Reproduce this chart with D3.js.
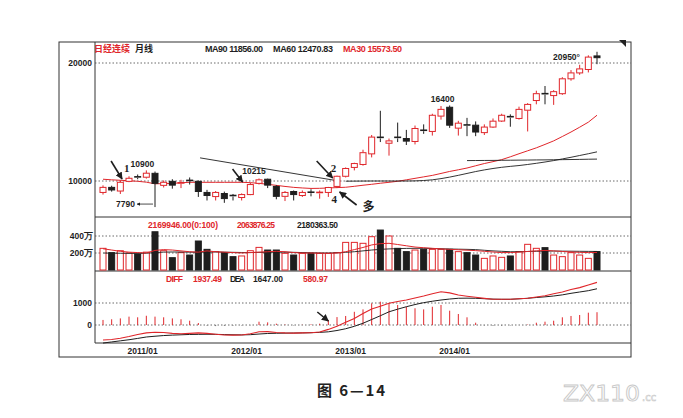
<!DOCTYPE html>
<html><head><meta charset="utf-8">
<script src="https://cdn.jsdelivr.net/npm/d3@7"></script>
<style>body{margin:0;background:#fff}svg{display:block}</style>
</head><body><svg id="c" width="683" height="418"></svg>
<script>
// ---------- data (monthly, Nikkei continuous futures) ----------
const months = ["2010/09","2010/10","2010/11","2010/12",
 "2011/01","2011/02","2011/03","2011/04","2011/05","2011/06","2011/07","2011/08","2011/09","2011/10","2011/11","2011/12",
 "2012/01","2012/02","2012/03","2012/04","2012/05","2012/06","2012/07","2012/08","2012/09","2012/10","2012/11","2012/12",
 "2013/01","2013/02","2013/03","2013/04","2013/05","2013/06","2013/07","2013/08","2013/09","2013/10","2013/11","2013/12",
 "2014/01","2014/02","2014/03","2014/04","2014/05","2014/06","2014/07","2014/08","2014/09","2014/10","2014/11","2014/12",
 "2015/01","2015/02","2015/03","2015/04","2015/05","2015/06"];
const open  = [9030,9460,9150,9970,10350,10320,10650,9630,9970,9780,10050,9970,9030,8680,8940,8770,8600,8850,9800,10150,9540,8700,9110,8770,9050,8950,9030,9540,10400,11150,11400,12300,13700,13200,13700,13600,13350,14300,14200,15500,16250,14480,14750,14730,14100,14570,15080,15450,15300,16000,16820,17400,17240,17400,18660,19160,19450,20600];
const high  = [9630,9600,10050,10400,10550,10900,10800,10050,10150,10100,10300,10050,9250,9150,9100,8900,8950,9850,10215,10200,9650,9150,9200,9200,9300,9200,9500,10450,11150,11550,12650,13900,15950,13600,14950,14330,14700,14800,15700,16350,16400,15100,15350,15050,14800,15300,15700,15650,16300,16600,17650,18050,17700,18800,19400,19850,20650,20950];
const low   = [8850,9100,8900,9900,10150,10200,7790,9450,9350,9400,9700,8650,8350,8350,8150,8350,8350,8800,9700,9400,8450,8300,8350,8650,8700,8500,8650,9400,10300,10900,11300,12000,13300,12150,13300,13050,13100,14000,13850,15200,14500,13850,13800,13800,13900,14500,15000,14600,15200,14200,16500,16500,16450,17300,18500,19000,19200,19900];
const close = [9460,9240,9890,10230,10330,10660,9800,9890,9650,9840,10000,9110,8770,9030,8510,8680,8850,9700,10100,9650,8700,9030,8850,9030,9020,9030,9450,10400,11060,11480,12400,13720,13650,13400,13620,13380,14450,14250,15570,16070,14730,14900,14700,14150,14570,15070,15570,15400,16070,16490,17400,17330,17570,18660,19160,19500,20500,20450];
const ma30 = [10150,10100,10060,10020,9975,9900,9760,9780,9800,9850,9890,9890,9890,9890,9890,9890,9890,9860,9800,9720,9630,9540,9460,9410,9370,9380,9410,9440,9470,9550,9640,9720,9810,9890,9975,10100,10225,10350,10475,10640,10810,10950,11100,11290,11480,11640,11810,12050,12310,12560,12810,13100,13400,13770,14150,14560,14985,15573.5];
const ma60 = [null,null,null,null,null,null,null,null,null,null,null,null,null,null,null,null,null,null,null,null,null,null,null,null,null,null,null,null,9985,9990,9995,10000,10000,10000,10000,10000,10010,10040,10100,10200,10330,10480,10640,10800,10940,11060,11160,11240,11310,11400,11500,11610,11730,11870,12010,12160,12310,12470.83];
const ma90 = [null,null,null,null,null,null,null,null,null,null,null,null,null,null,null,null,null,null,null,null,null,null,null,null,null,null,null,null,null,null,null,null,null,null,null,null,null,null,null,null,null,null,11730,11735,11740,11745,11755,11760,11770,11775,11785,11790,11800,11810,11820,11830,11845,11856];
// volume in 万 (10k contracts)
const volume = [255,204,227,200,188,210,450,227,145,204,176,341,243,216,204,157,165,227,266,235,235,196,176,196,196,196,196,204,325,325,314,392,470,400,255,216,235,243,243,243,243,216,204,176,137,165,149,165,216,302,255,263,176,157,204,176,137,216.99];
const volMaA = [250,235,220,210,205,200,230,240,235,225,215,210,225,215,210,205,200,205,210,215,220,215,205,200,200,198,196,200,215,240,265,295,310,314,300,285,270,262,255,248,243,238,233,228,220,212,205,205,210,218,225,230,225,218,212,208,205,206.39];
const volMaB = [200,198,197,196,196,197,205,210,212,212,210,208,212,212,210,208,206,205,207,208,210,210,208,205,203,200,200,202,208,215,225,235,243,248,252,254,255,255,253,250,247,245,243,240,232,225,220,215,215,218,220,222,223,222,221,220,219,218.04];
const diff = [-680,-660,-600,-520,-430,-360,-330,-340,-380,-400,-380,-360,-380,-420,-455,-460,-455,-400,-310,-300,-340,-360,-370,-360,-350,-320,-200,-60,120,300,520,730,850,985,1070,1136,1230,1318,1420,1514,1460,1364,1310,1260,1210,1168,1168,1168,1190,1214,1270,1330,1420,1500,1610,1700,1818,1937.49];
const dea  = [-820,-770,-720,-670,-610,-545,-510,-480,-460,-445,-430,-425,-420,-425,-435,-445,-450,-440,-410,-385,-375,-370,-365,-360,-350,-335,-310,-250,-170,-60,80,250,420,600,720,830,930,1015,1080,1136,1180,1215,1220,1215,1195,1175,1168,1168,1190,1215,1250,1280,1318,1370,1440,1500,1560,1647];
const macdHist = [230,260,300,380,350,420,380,350,300,260,195,90,-30,-50,-40,-30,-20,-10,150,120,60,20,-20,10,30,60,230,360,410,600,710,985,1060,985,910,830,760,710,830,910,650,500,350,105,-20,-40,-30,-20,0,20,105,150,195,350,410,455,560,580.97];
const priceTicks = [10000, 20000];
const volTicks = [200, 400];
const macdTicks = [0, 1000];
const xTickLabels = ["2011/01","2012/01","2013/01","2014/01"];
// annotations anchored in data space
const peakLabels = [{i:5,v:10900,t:"10900",dx:-4,dy:-3,a:"middle"},{i:18,v:10215,t:"10215",dx:-5,dy:-4,a:"middle"},{i:40,v:16400,t:"16400",dx:-7,dy:-3,a:"middle"},{i:57,v:20950,t:"20950°",dx:-17,dy:8,a:"end"}];
const trendLine = [[11.2,11960],[26.8,10050]];
const arrows = [{i:2.2,v:10170,dx:-11,dy:-18},{i:16.1,v:9915,dx:-10,dy:-13},{i:26.5,v:10254,dx:-16,dy:-17},{i:27.3,v:9068,dx:17,dy:13}];
const numLabels = [{i:2.2,v:10170,t:"1",dx:2,dy:-7},{i:26.5,v:10254,t:"2",dx:-2,dy:-6},{i:26.6,v:9068,t:"4",dx:-2,dy:11},{i:27.3,v:9068,t:"多",dx:23,dy:19}];
const macdArrow = {i:26,v:182,dx:-11,dy:-9};

// ---------- drawing ----------
const RED = "#e0262b", BLK = "#1e1e1e";
const svg = d3.select("#c");
const L = 95, R = 631, FL = 59, FT = 42, FB = 357;
const x  = d3.scaleLinear().domain([0, 57]).range([103, 597]);
const yP = d3.scaleLinear().domain([10000, 20000]).range([181, 63]);
const yV = d3.scaleLinear().domain([0, 400]).range([270, 236]);
const yM = d3.scaleLinear().domain([0, 1000]).range([325, 303]);

svg.append("rect").attr("width",683).attr("height",418).attr("fill","#fff");
const defs = svg.append("defs");
defs.append("marker").attr("id","ah").attr("viewBox","0 0 10 10").attr("refX",9).attr("refY",5)
  .attr("markerWidth",4.5).attr("markerHeight",4.5).attr("orient","auto")
  .append("path").attr("d","M0,0L10,5L0,10z").attr("fill",BLK);

// frame
svg.append("rect").attr("x",FL).attr("y",FT).attr("width",R-FL).attr("height",FB-FT)
  .attr("fill","none").attr("stroke","#333").attr("stroke-width",1);
svg.append("path").attr("d",`M${R-12},${FT-2}L${R-5},${FT-2}L${R-5},${FT+5}Z`).attr("fill","#222");
svg.append("line").attr("x1",L).attr("x2",L).attr("y1",FT).attr("y2",343).attr("stroke","#333");
[217,271,343].forEach(y=>svg.append("line").attr("x1",L).attr("x2",R).attr("y1",y).attr("y2",y).attr("stroke","#333"));

// grids
const grid = (y)=>svg.append("line").attr("x1",L).attr("x2",R).attr("y1",y).attr("y2",y)
  .attr("stroke","#444").attr("stroke-width",0.8).attr("stroke-dasharray","1.5,2");
priceTicks.forEach(v=>grid(yP(v)));
volTicks.forEach(v=>grid(yV(v)));
macdTicks.forEach(v=>grid(yM(v)));

const lab = {"font-family":"'Liberation Sans Narrow','Liberation Sans',Arial,sans-serif","font-weight":"bold","font-size":"8.5px"};
function txt(xp,yp,t,fill,anchor,extra){
  const e = svg.append("text").attr("x",xp).attr("y",yp).text(t).attr("fill",fill||BLK).attr("text-anchor",anchor||"start");
  Object.entries(Object.assign({},lab,extra||{})).forEach(([k,v])=>e.attr(k,v));
  return e;
}
// y labels via scales
priceTicks.forEach(v=>txt(92,yP(v)+3,d3.format("d")(v),BLK,"end"));
volTicks.forEach(v=>txt(93,yV(v)+3,v+"万",BLK,"end"));
macdTicks.forEach(v=>txt(92,yM(v)+3,String(v),BLK,"end"));
// x labels
xTickLabels.forEach(m=>{const i = months.indexOf(m); txt(x(i)+5,354,m,BLK,"middle");});

// headers
txt(94,52,"日经连续",RED,"start",{"font-family":"'Noto Sans CJK SC',sans-serif","font-size":"9px","textLength":36});
txt(135,52,"月线",BLK,"start",{"font-family":"'Noto Sans CJK SC',sans-serif","font-size":"9px"});
txt(205,52,"MA90 11856.00",BLK,"start",{"textLength":58,"font-size":"9px"});
txt(273,52,"MA60 12470.83",BLK,"start",{"textLength":60,"font-size":"9px"});
txt(343,52,"MA30 15573.50",RED,"start",{"textLength":59,"font-size":"9px"});
txt(148,228,"2169946.00(0:100)",RED,"start",{"textLength":70});
txt(237,228,"2063876.25",RED,"start",{"textLength":38});
txt(297,228,"2180363.50",BLK,"start",{"textLength":41});
txt(166,282,"DIFF",RED,"start",{"textLength":17});
txt(193,282,"1937.49",RED,"start",{"textLength":29});
txt(230,282,"DEA",BLK,"start",{"textLength":15});
txt(253,282,"1647.00",BLK,"start",{"textLength":30});
txt(303,282,"580.97",RED,"start",{"textLength":25});

// moving averages (price)
const lineP = d3.line().defined(d=>d!=null).x((d,i)=>x(i)).y(d=>yP(d));
svg.append("path").attr("d",lineP(ma30)).attr("fill","none").attr("stroke",RED).attr("stroke-width",1);
svg.append("path").attr("d",lineP(ma60)).attr("fill","none").attr("stroke",BLK).attr("stroke-width",0.9);
svg.append("path").attr("d",lineP(ma90)).attr("fill","none").attr("stroke",BLK).attr("stroke-width",0.9);
// trend line annotation
svg.append("line").attr("x1",x(trendLine[0][0])).attr("y1",yP(trendLine[0][1]))
  .attr("x2",x(trendLine[1][0])).attr("y2",yP(trendLine[1][1])).attr("stroke",BLK).attr("stroke-width",0.9);

// candles
const bw = 6;
const cg = svg.append("g");
months.forEach((m,i)=>{
  const up = close[i] >= open[i], col = up ? RED : BLK;
  const cx = x(i);
  const top = yP(Math.max(open[i],close[i])), bot = yP(Math.min(open[i],close[i]));
  const h = Math.max(1, bot-top);
  cg.append("line").attr("x1",cx).attr("x2",cx).attr("y1",yP(high[i])).attr("y2",top).attr("stroke",col).attr("stroke-width",1);
  cg.append("line").attr("x1",cx).attr("x2",cx).attr("y1",top+h).attr("y2",yP(low[i])).attr("stroke",col).attr("stroke-width",1);
  if (h <= 1.2) {
    cg.append("line").attr("x1",cx-bw/2-0.5).attr("x2",cx+bw/2+0.5).attr("y1",top).attr("y2",top).attr("stroke",col).attr("stroke-width",1.6);
  } else {
    cg.append("rect").attr("x",cx-bw/2).attr("y",top).attr("width",bw).attr("height",h)
      .attr("fill",up?"#fff":BLK).attr("stroke",col).attr("stroke-width",1);
  }
});

// peak labels
peakLabels.forEach(p=>txt(x(p.i)+p.dx, yP(p.v)+p.dy, p.t, BLK, p.a, {"font-size":"8.5px"}));
// 7790 low label
txt(x(6)-20, yP(7790)+0, "7790", BLK, "end", {"font-size":"8.5px"});
svg.append("line").attr("x1",x(6)-2).attr("x2",x(6)-18).attr("y1",yP(7790)-3).attr("y2",yP(7790)-3)
  .attr("stroke",BLK).attr("stroke-width",0.8).attr("marker-end","url(#ah)");

// arrows
arrows.forEach(a=>{
  const tx = x(a.i), ty = yP(a.v);
  svg.append("line").attr("x1",tx+a.dx).attr("y1",ty+a.dy).attr("x2",tx).attr("y2",ty)
    .attr("stroke",BLK).attr("stroke-width",1.6).attr("marker-end","url(#ah)");
});
numLabels.forEach(n=>{
  const cjk = n.t === "多";
  txt(x(n.i)+n.dx, yP(n.v)+n.dy, n.t, BLK, "start",
    cjk ? {"font-family":"'Noto Sans CJK SC',sans-serif","font-size":"12px"} : {"font-family":"'Liberation Serif',serif","font-size":"11px"});
});

// volume
const vg = svg.append("g");
volume.forEach((v,i)=>{
  const up = close[i] >= open[i];
  vg.append("rect").attr("x",x(i)-bw/2).attr("y",yV(v)).attr("width",bw).attr("height",yV(0)-yV(v))
    .attr("fill",up?"#fff":BLK).attr("stroke",up?RED:BLK).attr("stroke-width",1);
});
const lineV = d3.line().x((d,i)=>x(i)).y(d=>yV(d));
svg.append("path").attr("d",lineV(volMaB)).attr("fill","none").attr("stroke",BLK).attr("stroke-width",0.9);
svg.append("path").attr("d",lineV(volMaA)).attr("fill","none").attr("stroke",RED).attr("stroke-width",1);

// MACD
macdHist.forEach((h,i)=>{
  svg.append("line").attr("x1",x(i)).attr("x2",x(i)).attr("y1",yM(0)).attr("y2",yM(h))
    .attr("stroke",h>=0?RED:"#666").attr("stroke-width",1);
});
const lineM = d3.line().x((d,i)=>x(i)).y(d=>yM(d));
svg.append("path").attr("d",lineM(dea)).attr("fill","none").attr("stroke",BLK).attr("stroke-width",1);
svg.append("path").attr("d",lineM(diff)).attr("fill","none").attr("stroke",RED).attr("stroke-width",1.1);
{
  const tx = x(macdArrow.i), ty = yM(macdArrow.v);
  svg.append("line").attr("x1",tx+macdArrow.dx).attr("y1",ty+macdArrow.dy).attr("x2",tx).attr("y2",ty)
    .attr("stroke",BLK).attr("stroke-width",1.6).attr("marker-end","url(#ah)");
}

// caption & watermark
svg.append("text").attr("x",317).attr("y",396).text("图 6—14").attr("fill","#222")
  .attr("font-family","'Noto Sans CJK SC',sans-serif").attr("font-weight","bold").attr("font-size","15px")
  .attr("textLength",68).attr("lengthAdjust","spacing");
svg.append("text").attr("x",563).attr("y",401).text("ZX110").attr("fill","#fff").attr("stroke","#c9c9c9")
  .attr("stroke-width",0.9).attr("font-family","'DejaVu Sans',sans-serif").attr("font-size","21px")
  .attr("textLength",77).attr("lengthAdjust","spacingAndGlyphs");
svg.append("text").attr("x",642).attr("y",401).text(".cc").attr("fill","#fff").attr("stroke","#c9c9c9")
  .attr("stroke-width",0.6).attr("font-family","'DejaVu Sans',sans-serif").attr("font-size","10px");
</script></body></html>
